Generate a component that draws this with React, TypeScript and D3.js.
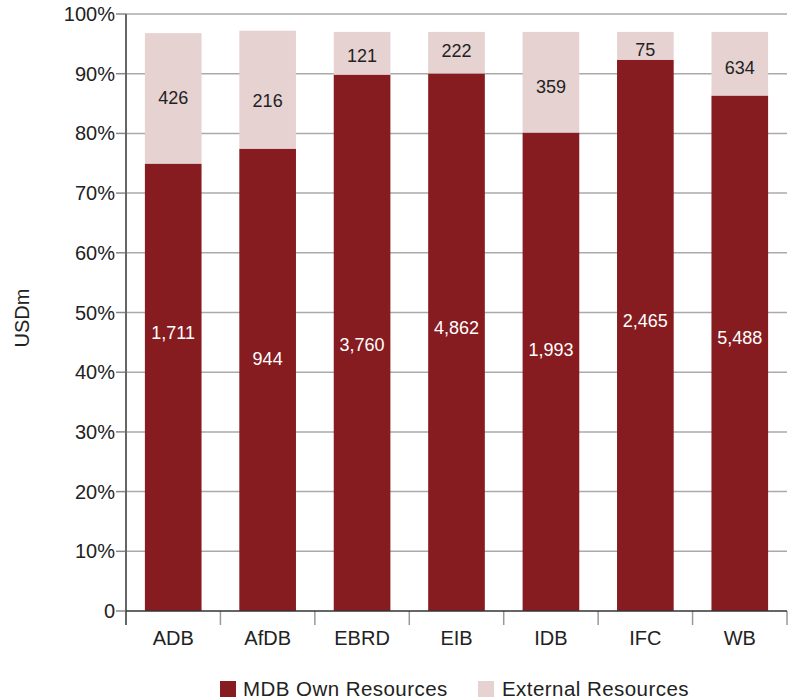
import React from "react";
import * as d3 from "d3";

const categories = ["ADB", "AfDB", "EBRD", "EIB", "IDB", "IFC", "WB"];
// bar heights in percent
const ownShare = [74.9, 77.4, 89.8, 90.0, 80.1, 92.3, 86.3];
const totalShare = [96.8, 97.2, 97.0, 97.0, 97.0, 97.0, 97.0];
// value labels (USDm)
const ownValues = ["1,711", "944", "3,760", "4,862", "1,993", "2,465", "5,488"];
const extValues = ["426", "216", "121", "222", "359", "75", "634"];
// label anchor levels (percent)
const ownLabelAt = [46.7, 42.3, 44.6, 47.4, 43.7, 48.7, 45.7];
const extLabelAt = [85.9, 85.4, 93.0, 93.9, 87.8, 94.1, 91.0];
const yTicks = [0, 10, 20, 30, 40, 50, 60, 70, 80, 90, 100];
const seriesNames = ["MDB Own Resources", "External Resources"];

const DARK = "#871C20";
const LIGHT = "#E7D2D2";
const FONT = "'Liberation Sans', Arial, Helvetica, sans-serif";

export default function App() {
  const W = 793, H = 699;
  const left = 126, right = 787, top = 14, bottom = 611;
  const x = d3.scaleBand<string>().domain(categories).range([left, right]).paddingInner(0.4).paddingOuter(0.2);
  const y = d3.scaleLinear().domain([0, 100]).range([bottom, top]);
  const step = x.step();
  const bounds = d3.range(categories.length + 1).map((i) => left + i * step);

  return (
    <svg width={W} height={H} style={{ position: "absolute", left: 0, top: 0 }} fontFamily={FONT}>
      <rect width={W} height={H} fill="#fff" />
      {yTicks.map((t) => (
        <g key={t}>
          {t > 0 && <line x1={left} x2={right} y1={y(t)} y2={y(t)} stroke="#aaa" strokeWidth={1.5} />}
          <line x1={left - 10} x2={left} y1={y(t)} y2={y(t)} stroke="#888" strokeWidth={1.5} />
          <text x={left - 11} y={y(t)} dy="0.35em" textAnchor="end" fontSize={20} fill="#222">
            {t === 0 ? "0" : `${t}%`}
          </text>
        </g>
      ))}
      {categories.map((c, i) => {
        const bx = x(c)!;
        const bw = x.bandwidth();
        const cx = bx + bw / 2;
        return (
          <g key={c}>
            <rect x={bx} y={y(totalShare[i])} width={bw} height={y(ownShare[i]) - y(totalShare[i])} fill={LIGHT} />
            <rect x={bx} y={y(ownShare[i])} width={bw} height={y(0) - y(ownShare[i])} fill={DARK} />
            <text x={cx} y={y(extLabelAt[i])} dy="0.35em" textAnchor="middle" fontSize={18} fill="#222">
              {extValues[i]}
            </text>
            <text x={cx} y={y(ownLabelAt[i])} dy="0.35em" textAnchor="middle" fontSize={18} fill="#fff">
              {ownValues[i]}
            </text>
            <text x={cx} y={y(0) + 34} textAnchor="middle" fontSize={20} fill="#222">
              {c}
            </text>
          </g>
        );
      })}
      {bounds.map((b, i) => (
        <line key={i} x1={b} x2={b} y1={bottom} y2={bottom + 14} stroke="#999" strokeWidth={1.5} />
      ))}
      <line x1={left} x2={left} y1={top} y2={bottom + 14} stroke="#666" strokeWidth={2} />
      <line x1={left} x2={right} y1={bottom} y2={bottom} stroke="#333" strokeWidth={1.5} />
      <text transform={`translate(29,318) rotate(-90)`} textAnchor="middle" fontSize={20} fill="#222">
        USDm
      </text>
      <g>
        <rect x={220} y={681} width={16} height={16} fill={DARK} />
        <text x={243} y={689} dy="0.35em" fontSize={20.5} letterSpacing={0.45} fill="#222">{seriesNames[0]}</text>
        <rect x={478} y={681} width={16} height={16} fill={LIGHT} />
        <text x={502} y={689} dy="0.35em" fontSize={20.5} letterSpacing={0.45} fill="#222">{seriesNames[1]}</text>
      </g>
    </svg>
  );
}
